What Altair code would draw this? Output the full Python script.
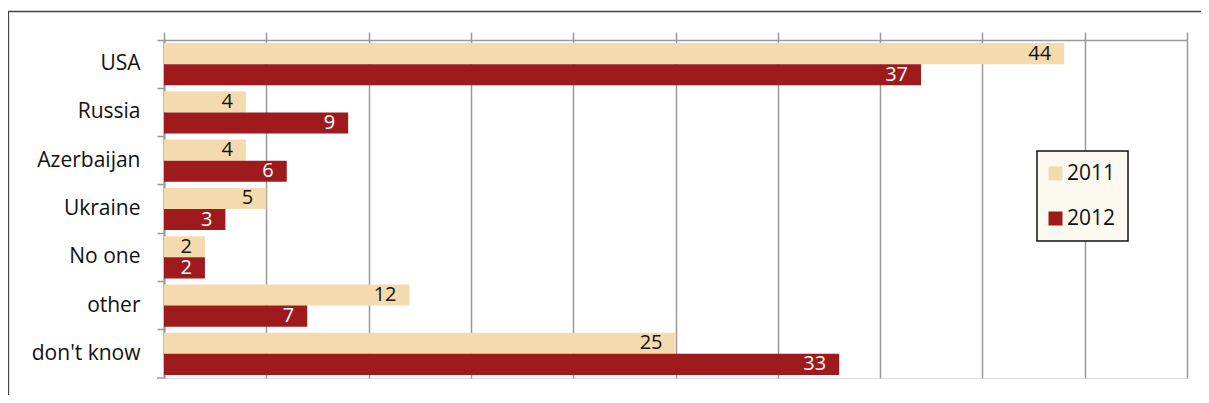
import altair as alt
import pandas as pd

countries = ["USA", "Russia", "Azerbaijan", "Ukraine", "No one", "other", "don't know"]
years = ["2011", "2012"]
v2011 = [44, 4, 4, 5, 2, 12, 25]
v2012 = [37, 9, 6, 3, 2, 7, 33]
colors = ["#F4DBAF", "#9E1A1D"]
x_ticks = [0, 5, 10, 15, 20, 25, 30, 35, 40, 45, 50]

rows = []
for c, a, b in zip(countries, v2011, v2012):
    rows.append({"country": c, "year": "2011", "value": a})
    rows.append({"country": c, "year": "2012", "value": b})
df = pd.DataFrame(rows)

FONT = "Open Sans"

y_enc = alt.Y("country:N", sort=countries,
              scale=alt.Scale(paddingInner=0, paddingOuter=0),
              axis=alt.Axis(title=None, domain=True, domainColor="#999999", domainWidth=2,
                            ticks=True, tickColor="#999999", tickWidth=1.5, tickSize=7,
                            bandPosition=0, labelFont=FONT, labelFontSize=21,
                            labelColor="#111111", labelPadding=17, grid=False))
yoff = alt.YOffset("year:N", scale=alt.Scale(domain=years, paddingInner=0, paddingOuter=0.144))
x_enc = alt.X("value:Q", scale=alt.Scale(domain=[0, 50], nice=False),
              axis=alt.Axis(orient="top", title=None, values=x_ticks, labels=False,
                            domain=True, domainColor="#999999", domainWidth=1.5,
                            ticks=True, tickSize=8, tickColor="#999999", tickWidth=1.5,
                            grid=True, gridColor="#999999", gridWidth=1.5))

bars = alt.Chart(df).mark_bar().encode(
    y=y_enc, yOffset=yoff, x=x_enc,
    color=alt.Color("year:N", scale=alt.Scale(domain=years, range=colors),
                    legend=alt.Legend(title=None, orient="none", legendX=873, legendY=111,
                                      symbolType="square", symbolSize=196, symbolStrokeWidth=0,
                                      symbolOffset=-4,
                                      labelFont=FONT, labelFontSize=21, labelColor="#111111",
                                      labelOffset=1, padding=12,
                                      fillColor="#FCF9F1", strokeColor="#111111")),
)

lab11 = alt.Chart(df).transform_filter(alt.datum.year == "2011").mark_text(
    align="right", baseline="middle", dx=-13, font=FONT, fontSize=20, color="#111111"
).encode(y=alt.Y("country:N", sort=countries), yOffset=yoff, x="value:Q", text="value:Q")

lab12 = alt.Chart(df).transform_filter(alt.datum.year == "2012").mark_text(
    align="right", baseline="middle", dx=-13, font=FONT, fontSize=20, color="#FFFFFF"
).encode(y=alt.Y("country:N", sort=countries), yOffset=yoff, x="value:Q", text="value:Q")

bottom_tick = alt.Chart(alt.Data(values=[{}])).mark_rule(color="#999999", strokeWidth=1.5).encode(
    x=alt.value(-7), x2=alt.value(0), y=alt.value(338))

frame = alt.Chart(alt.Data(values=[{}])).mark_rect(
    fill=None, fillOpacity=0, stroke="#444444", strokeWidth=1.3
).encode(x=alt.value(-155.5), x2=alt.value(1100), y=alt.value(-28.5), y2=alt.value(500))

chart = alt.layer(frame, bars, lab11, lab12, bottom_tick).properties(
    width=1023, height=338,
    autosize=alt.AutoSizeParams(type="none"),
    padding={"left": 156, "top": 32, "right": 14, "bottom": 17},
).configure_view(strokeWidth=0).configure(background="white").configure_legend(
    rowPadding=23, strokeWidth=1.5)

chart.save("out.html", embed_options={"renderer": "svg", "actions": False})
